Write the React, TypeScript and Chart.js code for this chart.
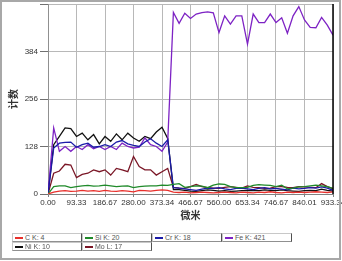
import React, { useEffect, useRef } from 'react';
import { Chart, registerables } from 'chart.js';
Chart.register(...registerables);

const xTickLabels = ['0.00', '93.33', '186.67', '280.00', '373.34', '466.67', '560.00', '653.34', '746.67', '840.01', '933.34'];
const yTickValues = [0, 128, 256, 384, 512];
const pointCount = 51;
const xMax = 933.34;
const distances = Array.from({ length: pointCount }, (_, i) => Math.round((i * xMax) / (pointCount - 1) * 100) / 100);

const cK = [0, 5, 8, 9, 7, 8, 10, 8, 9, 7, 10, 8, 7, 9, 8, 6, 10, 9, 8, 10, 11, 10,
  5, 4, 5, 3, 4, 5, 4, 3, 4, 5, 4, 3, 5, 4, 3, 5, 4, 6, 4, 3, 5, 4, 5, 4, 5, 6, 5, 4, 6];
const siK = [0, 20, 22, 22, 17, 20, 22, 23, 21, 22, 24, 22, 20, 21, 22, 17, 20, 21, 22, 22, 24, 23,
  26, 28, 18, 20, 22, 21, 17, 24, 27, 26, 20, 17, 17, 18, 23, 25, 24, 23, 20, 24, 14, 16, 19, 20, 22, 24, 22, 20, 15];
const crK = [0, 124, 137, 139, 140, 126, 133, 137, 126, 128, 133, 128, 140, 144, 135, 131, 128, 140, 149, 137, 128, 146,
  17, 16, 14, 12, 10, 13, 16, 15, 17, 14, 12, 15, 16, 14, 12, 15, 17, 14, 15, 13, 11, 16, 14, 15, 17, 16, 19, 16, 10];
const feK = [0, 178, 115, 128, 115, 128, 120, 133, 122, 128, 120, 128, 120, 137, 128, 124, 126, 151, 133, 128, 115, 140,
  489, 460, 487, 473, 485, 489, 491, 488, 435, 480, 458, 480, 480, 404, 485, 462, 462, 485, 462, 475, 433, 480, 505, 469, 449, 448, 476, 455, 428];
const niK = [0, 133, 155, 178, 176, 155, 164, 146, 160, 135, 155, 142, 162, 146, 164, 151, 142, 155, 149, 167, 180, 150,
  12, 12, 10, 8, 7, 9, 11, 10, 8, 9, 7, 8, 9, 10, 9, 9, 11, 10, 9, 11, 9, 8, 7, 9, 10, 9, 13, 10, 8];
const moL = [0, 56, 62, 80, 78, 44, 53, 56, 65, 60, 65, 51, 69, 65, 60, 101, 74, 65, 65, 51, 60, 69,
  18, 16, 15, 20, 26, 20, 17, 16, 15, 18, 20, 18, 16, 22, 18, 17, 15, 16, 20, 20, 18, 17, 20, 19, 18, 17, 28, 20, 14];

const seriesLabels = ['C K: 4', 'Si K: 20', 'Cr K: 18', 'Fe K: 421', 'Ni K: 10', 'Mo L: 17'];
const seriesValues = [cK, siK, crK, feK, niK, moL];
const seriesColors = ['#e8302c', '#1f8a2a', '#1b1ba8', '#7d22c4', '#111111', '#7a1626'];

const FONT = '"Liberation Sans", Arial, "Noto Sans CJK SC", sans-serif';

const framePlugin = {
  id: 'frameRight',
  afterDraw(chart: any) {
    const { ctx, chartArea } = chart;
    ctx.save();
    ctx.strokeStyle = '#000';
    ctx.lineWidth = 1.5;
    ctx.beginPath();
    ctx.moveTo(chartArea.right, chartArea.top);
    ctx.lineTo(chartArea.right, chartArea.bottom);
    ctx.stroke();
    ctx.restore();
  },
};

export default function App() {
  const ref = useRef<HTMLCanvasElement>(null);
  useEffect(() => {
    document.body.style.margin = '0';
    const xTickValues = xTickLabels.map((s) => parseFloat(s));
    const chart = new Chart(ref.current!, {
      type: 'line',
      data: {
        datasets: seriesLabels.map((label, k) => ({
          label,
          data: seriesValues[k].map((v, i) => ({ x: distances[i], y: v })),
          borderColor: seriesColors[k],
          backgroundColor: seriesColors[k],
          borderWidth: 1.3,
          pointRadius: 0,
          tension: 0,
          fill: false,
        })),
      },
      options: {
        animation: false,
        responsive: false,
        layout: { padding: { left: 8, right: 9, top: 4, bottom: 39 } },
        plugins: { legend: { display: false }, tooltip: { enabled: false } },
        scales: {
          x: {
            type: 'linear',
            min: 0,
            max: xMax,
            afterBuildTicks: (s: any) => {
              s.ticks = xTickValues.map((v) => ({ value: v }));
            },
            ticks: {
              autoSkip: false,
              maxRotation: 0,
              padding: 1,
              color: '#333',
              font: { family: FONT, size: 8 },
              callback: (_v: any, i: number) => xTickLabels[i],
            },
            grid: { color: '#b8b8b8', tickLength: 3, tickColor: '#808080' },
            border: { color: '#808080' },
            title: {
              display: true,
              text: '微米',
              color: '#333',
              padding: 0,
              font: { family: FONT, size: 10, weight: 'bold' },
            },
            afterFit: (s: any) => {
              s.height = 28;
              s.paddingLeft = 0;
              s.paddingRight = 0;
            },
          },
          y: {
            min: 0,
            max: 512,
            afterBuildTicks: (s: any) => {
              s.ticks = yTickValues.map((v) => ({ value: v }));
            },
            ticks: {
              padding: 2,
              color: '#333',
              font: { family: FONT, size: 8 },
              callback: (v: any) => (v === 512 ? '' : String(v)),
            },
            grid: { color: '#b8b8b8', tickLength: 8, tickColor: '#707070' },
            border: { color: '#909090' },
            title: {
              display: true,
              text: '计数',
              color: '#333',
              padding: 0,
              font: { family: FONT, size: 10, weight: 'bold' },
            },
            afterFit: (s: any) => {
              s.width = 40;
              s.paddingTop = 0;
              s.paddingBottom = 0;
            },
          },
        },
      },
      plugins: [framePlugin],
    } as any);
    return () => chart.destroy();
  }, []);

  return (
    <div style={{ position: 'relative', width: 342, height: 261, overflow: 'hidden', background: '#fff' }}>
      <canvas ref={ref} width={342} height={261} style={{ position: 'absolute', left: 0, top: 0 }} />
      <div
        style={{
          position: 'absolute', left: 0, top: 0, width: 341, height: 260,
          border: '2px solid #a8a8a8', boxSizing: 'border-box', pointerEvents: 'none',
        }}
      />
      <div style={{ position: 'absolute', left: 12, top: 233, width: 280 }}>
        {seriesLabels.map((label, k) => (
          <div
            key={label}
            style={{
              position: 'absolute',
              left: (k % 4) * 70,
              top: Math.floor(k / 4) * 9,
              width: 70,
              height: 9,
              boxSizing: 'border-box',
              borderTop: '1px solid #c8c8c8',
              borderLeft: '1px solid #c8c8c8',
              borderBottom: '1px solid #909090',
              borderRight: '1px solid #505050',
              background: '#fff',
            }}
          >
            <div style={{ position: 'absolute', left: 2, top: 3, width: 8, height: 1.5, background: seriesColors[k] }} />
            <div
              style={{
                position: 'absolute', left: 12, top: -1, fontFamily: FONT, fontSize: 7,
                lineHeight: '9px', color: '#555', whiteSpace: 'nowrap',
              }}
            >
              {label}
            </div>
          </div>
        ))}
      </div>
    </div>
  );
}
